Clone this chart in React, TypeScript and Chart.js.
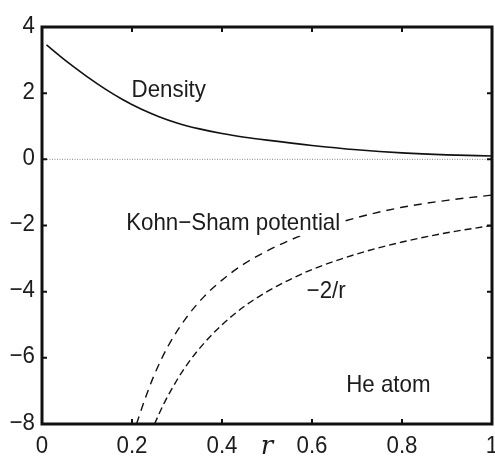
import React, { useEffect, useRef } from "react";
import { Chart, registerables } from "chart.js";

Chart.register(...registerables);

// ---- data ----
const densityR = [0.01, 0.04, 0.07, 0.1, 0.14, 0.18, 0.22, 0.26, 0.3, 0.35, 0.4, 0.45, 0.5, 0.6, 0.7, 0.8, 0.9, 1.0];
const densityValues = [3.46, 3.12, 2.8, 2.5, 2.13, 1.8, 1.52, 1.29, 1.1, 0.92, 0.78, 0.67, 0.58, 0.42, 0.29, 0.195, 0.135, 0.1];

const ksR = [0.21, 0.23, 0.25, 0.28, 0.32, 0.36, 0.4, 0.45, 0.5, 0.55, 0.6, 0.7, 0.8, 0.9, 1.0];
const ksValues = [-8.0, -7.2, -6.5, -5.65, -4.8, -4.15, -3.65, -3.15, -2.77, -2.45, -2.18, -1.76, -1.45, -1.24, -1.08];

const coulombR = [0.25, 0.27, 0.3, 0.33, 0.36, 0.4, 0.45, 0.5, 0.55, 0.6, 0.7, 0.8, 0.9, 1.0];
const coulombValues = [-8, -7.41, -6.67, -6.06, -5.56, -5, -4.44, -4, -3.64, -3.33, -2.86, -2.5, -2.22, -2];

const zeroR = [0, 1];
const zeroValues = [0, 0];

const xTickValues = [0, 0.2, 0.4, 0.6, 0.8, 1];
const xTickLabels = ["0", "0.2", "0.4", "0.6", "0.8", "1"];
const yTickValues = [4, 2, 0, -2, -4, -6, -8];
const yTickLabels = ["4", "2", "0", "\u22122", "\u22124", "\u22126", "\u22128"];

const annotationTexts = ["Density", "Kohn\u2212Sham potential", "\u22122/r", "He atom"];
const annotationR = [0.199, 0.187, 0.588, 0.676];
const annotationY = [1.88, -2.13, -4.19, -7.02];

const xAxisTitle = "r";

const toPoints = (xs: number[], ys: number[]) => xs.map((x, i) => ({ x, y: ys[i] }));

const FONT = '24px "Liberation Sans", Arial, sans-serif';
const SQUEEZE = 0.93;
const INK = "#1c1c1c";

function squeezedText(ctx: CanvasRenderingContext2D, text: string, x: number, y: number, align: CanvasTextAlign) {
  ctx.save();
  ctx.translate(x, y);
  ctx.scale(SQUEEZE, 1);
  ctx.textAlign = align;
  ctx.fillText(text, 0, 0);
  ctx.restore();
}

const framePlugin = {
  id: "frame",
  afterDatasetsDraw(chart: any) {
    const ctx: CanvasRenderingContext2D = chart.ctx;
    const { left, right, top, bottom } = chart.chartArea;
    const xs = chart.scales.x;
    const ys = chart.scales.y;

    ctx.save();
    // annotations with white background
    ctx.font = FONT;
    ctx.textBaseline = "alphabetic";
    annotationTexts.forEach((t, i) => {
      const px = xs.getPixelForValue(annotationR[i]);
      const py = ys.getPixelForValue(annotationY[i]);
      const w = ctx.measureText(t).width * SQUEEZE;
      ctx.fillStyle = "#ffffff";
      ctx.fillRect(px - 1, py - 19, w + 2, 25);
      ctx.fillStyle = INK;
      squeezedText(ctx, t, px, py, "left");
    });

    // frame
    ctx.strokeStyle = "#111";
    ctx.lineWidth = 3;
    ctx.strokeRect(left, top, right - left, bottom - top);

    // ticks (inward)
    ctx.lineWidth = 2;
    const tl = 5;
    xTickValues.forEach((v) => {
      const px = xs.getPixelForValue(v);
      ctx.beginPath();
      ctx.moveTo(px, bottom);
      ctx.lineTo(px, bottom - tl);
      ctx.moveTo(px, top);
      ctx.lineTo(px, top + tl);
      ctx.stroke();
    });
    yTickValues.forEach((v) => {
      const py = ys.getPixelForValue(v);
      ctx.beginPath();
      ctx.moveTo(left, py);
      ctx.lineTo(left + tl, py);
      ctx.moveTo(right, py);
      ctx.lineTo(right - tl, py);
      ctx.stroke();
    });

    // tick labels
    ctx.fillStyle = INK;
    ctx.font = FONT;
    ctx.textBaseline = "alphabetic";
    xTickValues.forEach((v, i) => {
      const px = xs.getPixelForValue(v);
      squeezedText(ctx, xTickLabels[i], px, bottom + 28.5, "center");
    });
    yTickValues.forEach((v, i) => {
      const py = ys.getPixelForValue(v);
      squeezedText(ctx, yTickLabels[i], left - 7, py + 5.5, "right");
    });

    // axis title
    ctx.font = 'italic 26px "DejaVu Serif", "Liberation Serif", serif';
    ctx.textAlign = "center";
    ctx.fillText(xAxisTitle, xs.getPixelForValue(0.5), bottom + 30);
    ctx.restore();
  },
};

export default function App() {
  const canvasRef = useRef<HTMLCanvasElement | null>(null);

  useEffect(() => {
    document.body.style.margin = "0";
    document.body.style.overflow = "hidden";
    const canvas = canvasRef.current!;
    const chart = new Chart(canvas, {
      type: "line",
      data: {
        datasets: [
          {
            data: toPoints(zeroR, zeroValues),
            borderColor: "#8a8a8a",
            borderWidth: 1,
            borderDash: [1, 1.5],
            pointRadius: 0,
          },
          {
            data: toPoints(densityR, densityValues),
            borderColor: "#111",
            borderWidth: 1.6,
            pointRadius: 0,
            cubicInterpolationMode: "monotone",
          },
          {
            data: toPoints(ksR, ksValues),
            borderColor: "#111",
            borderWidth: 1.4,
            borderDash: [8, 6],
            pointRadius: 0,
            cubicInterpolationMode: "monotone",
          },
          {
            data: toPoints(coulombR, coulombValues),
            borderColor: "#111",
            borderWidth: 1.4,
            borderDash: [7, 4],
            pointRadius: 0,
            cubicInterpolationMode: "monotone",
          },
        ],
      },
      options: {
        animation: false,
        responsive: false,
        devicePixelRatio: 1,
        parsing: false as any,
        layout: { padding: { left: 42, top: 27, right: 18, bottom: 37 } },
        scales: {
          x: { type: "linear", min: 0, max: 1, display: false },
          y: { type: "linear", min: -8, max: 4, display: false },
        },
        plugins: {
          legend: { display: false },
          tooltip: { enabled: false },
        },
      },
      plugins: [framePlugin],
    });
    return () => chart.destroy();
  }, []);

  return (
    <div style={{ position: "fixed", left: 0, top: 0, width: 495, height: 461, overflow: "hidden", background: "#fff" }}>
      <canvas ref={canvasRef} width={510} height={461} style={{ width: 510, height: 461, display: "block" }} />
    </div>
  );
}
